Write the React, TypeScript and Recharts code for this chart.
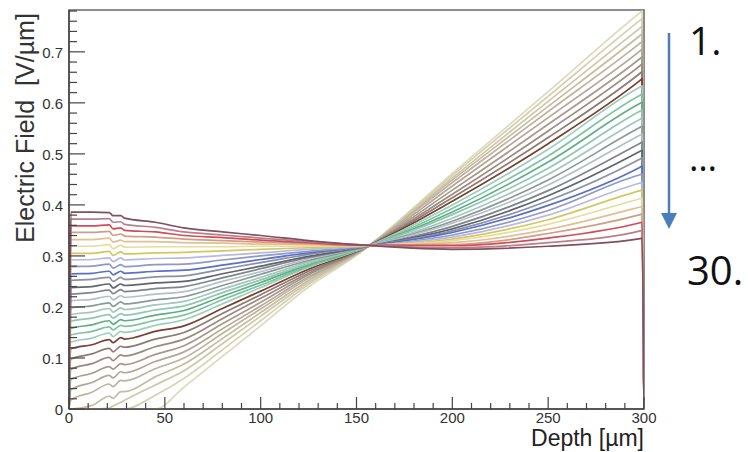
import React from 'react';
import { LineChart, Line, XAxis, YAxis, ReferenceArea } from 'recharts';

// Depth positions (µm) at which each field profile is sampled
const depth = [0, 1, 12, 21, 23, 27, 29, 45, 60, 80, 100, 125, 150, 200, 250, 298, 299, 300];

// Electric field profiles [V/µm]; curve01 is "1." (top at right), curve30 is "30."
const curve01 = [0, 0, 0, 0, 0, 0, 0, 0, 0.043, 0.103, 0.163, 0.239, 0.301, 0.462, 0.622, 0.777, 0.780, 0];
const curve02 = [0, 0, 0, 0, 0, 0, 0, 0.027, 0.060, 0.116, 0.173, 0.244, 0.302, 0.458, 0.613, 0.762, 0.765, 0];
const curve03 = [0, 0, 0, 0.002, 0.006, 0.013, 0.017, 0.047, 0.075, 0.128, 0.182, 0.248, 0.303, 0.453, 0.603, 0.747, 0.750, 0];
const curve04 = [0, 0, 0.007, 0.025, 0.021, 0.034, 0.034, 0.063, 0.088, 0.138, 0.189, 0.252, 0.304, 0.449, 0.593, 0.732, 0.735, 0];
const curve05 = [0, 0.018, 0.033, 0.049, 0.044, 0.056, 0.055, 0.079, 0.100, 0.148, 0.196, 0.256, 0.305, 0.444, 0.583, 0.717, 0.720, 0];
const curve06 = [0, 0.038, 0.052, 0.066, 0.061, 0.073, 0.071, 0.093, 0.112, 0.157, 0.202, 0.259, 0.305, 0.437, 0.571, 0.702, 0.705, 0];
const curve07 = [0, 0.058, 0.070, 0.083, 0.078, 0.089, 0.087, 0.107, 0.124, 0.167, 0.209, 0.263, 0.306, 0.429, 0.558, 0.687, 0.690, 0];
const curve08 = [0, 0.078, 0.089, 0.101, 0.095, 0.106, 0.104, 0.122, 0.137, 0.177, 0.217, 0.266, 0.307, 0.421, 0.545, 0.673, 0.676, 0];
const curve09 = [0, 0.098, 0.108, 0.119, 0.112, 0.123, 0.121, 0.137, 0.150, 0.187, 0.224, 0.270, 0.308, 0.414, 0.532, 0.658, 0.661, 0];
const curve10 = [0, 0.118, 0.126, 0.136, 0.130, 0.140, 0.137, 0.152, 0.163, 0.197, 0.231, 0.274, 0.309, 0.407, 0.520, 0.644, 0.647, 0];
const curve11 = [0, 0.131, 0.139, 0.149, 0.142, 0.152, 0.150, 0.164, 0.175, 0.206, 0.238, 0.278, 0.310, 0.400, 0.509, 0.631, 0.633, 0];
const curve12 = [0, 0.145, 0.152, 0.161, 0.155, 0.164, 0.162, 0.174, 0.184, 0.214, 0.243, 0.280, 0.310, 0.393, 0.496, 0.615, 0.617, 0];
const curve13 = [0, 0.158, 0.165, 0.173, 0.166, 0.175, 0.173, 0.184, 0.193, 0.221, 0.248, 0.283, 0.311, 0.386, 0.484, 0.599, 0.601, 0];
const curve14 = [0, 0.172, 0.178, 0.185, 0.178, 0.187, 0.184, 0.194, 0.202, 0.228, 0.253, 0.285, 0.312, 0.381, 0.472, 0.584, 0.586, 0];
const curve15 = [0, 0.185, 0.190, 0.197, 0.190, 0.198, 0.195, 0.204, 0.211, 0.235, 0.258, 0.288, 0.312, 0.374, 0.460, 0.568, 0.570, 0];
const curve16 = [0, 0.198, 0.202, 0.208, 0.201, 0.210, 0.206, 0.214, 0.220, 0.242, 0.264, 0.291, 0.313, 0.368, 0.449, 0.552, 0.554, 0];
const curve17 = [0, 0.212, 0.215, 0.221, 0.214, 0.222, 0.219, 0.225, 0.230, 0.250, 0.269, 0.294, 0.314, 0.364, 0.439, 0.537, 0.539, 0];
const curve18 = [0, 0.225, 0.228, 0.233, 0.226, 0.234, 0.230, 0.236, 0.240, 0.257, 0.275, 0.297, 0.314, 0.358, 0.428, 0.521, 0.523, 0];
const curve19 = [0, 0.238, 0.240, 0.245, 0.237, 0.245, 0.242, 0.247, 0.250, 0.265, 0.280, 0.299, 0.315, 0.353, 0.418, 0.505, 0.507, 0];
const curve20 = [0, 0.252, 0.254, 0.258, 0.250, 0.258, 0.254, 0.259, 0.261, 0.274, 0.287, 0.303, 0.316, 0.349, 0.408, 0.490, 0.492, 0];
const curve21 = [0, 0.265, 0.266, 0.270, 0.263, 0.270, 0.266, 0.270, 0.272, 0.282, 0.293, 0.306, 0.317, 0.346, 0.399, 0.474, 0.476, 0];
const curve22 = [0, 0.279, 0.280, 0.284, 0.276, 0.283, 0.279, 0.283, 0.284, 0.292, 0.300, 0.309, 0.317, 0.341, 0.389, 0.459, 0.460, 0];
const curve23 = [0, 0.292, 0.293, 0.296, 0.289, 0.296, 0.292, 0.295, 0.296, 0.301, 0.306, 0.313, 0.318, 0.337, 0.380, 0.443, 0.444, 0];
const curve24 = [0, 0.305, 0.305, 0.309, 0.301, 0.308, 0.304, 0.306, 0.307, 0.310, 0.313, 0.316, 0.319, 0.333, 0.371, 0.428, 0.429, 0];
const curve25 = [0, 0.319, 0.319, 0.322, 0.314, 0.321, 0.317, 0.318, 0.318, 0.318, 0.319, 0.319, 0.320, 0.330, 0.362, 0.412, 0.413, 0];
const curve26 = [0, 0.332, 0.332, 0.335, 0.327, 0.331, 0.328, 0.328, 0.326, 0.325, 0.323, 0.322, 0.320, 0.326, 0.352, 0.396, 0.397, 0];
const curve27 = [0, 0.346, 0.346, 0.348, 0.340, 0.343, 0.339, 0.337, 0.333, 0.330, 0.327, 0.324, 0.321, 0.322, 0.344, 0.381, 0.382, 0];
const curve28 = [0, 0.359, 0.359, 0.361, 0.353, 0.355, 0.350, 0.347, 0.340, 0.336, 0.331, 0.326, 0.321, 0.320, 0.335, 0.365, 0.366, 0];
const curve29 = [0, 0.372, 0.372, 0.373, 0.366, 0.367, 0.362, 0.356, 0.347, 0.341, 0.335, 0.328, 0.322, 0.316, 0.326, 0.349, 0.350, 0];
const curve30 = [0, 0.386, 0.386, 0.385, 0.379, 0.379, 0.374, 0.366, 0.355, 0.347, 0.340, 0.330, 0.322, 0.313, 0.319, 0.334, 0.335, 0];

const curveColors = [
  '#ddd9bb', '#d6d0b2', '#cfc7aa', '#c6bca2', '#bfb29e', '#b4a696', '#a8998c', '#9a8a80', '#8e7b72', '#7a3f33',
  '#9ccfba', '#7fc3a3', '#5fae86', '#8fc7b0', '#a5c4bb', '#8a9a94', '#b3c0c8', '#7e868c', '#5f666d', '#8a91a8',
  '#5c6fc6', '#9098c8', '#b5b9e3', '#d5c75e', '#e6dc9e', '#e3bf94', '#cf9e86', '#d24b57', '#b98088', '#80505f',
];

const xTicks = [0, 10, 20, 30, 40, 50, 60, 70, 80, 90, 100, 110, 120, 130, 140, 150, 160, 170, 180, 190, 200, 210, 220, 230, 240, 250, 260, 270, 280, 290, 300];
const yTicks = [0, 0.02, 0.04, 0.06, 0.08, 0.1, 0.12, 0.14, 0.16, 0.18, 0.2, 0.22, 0.24, 0.26, 0.28, 0.3, 0.32, 0.34, 0.36, 0.38, 0.4, 0.42, 0.44, 0.46, 0.48, 0.5, 0.52, 0.54, 0.56, 0.58, 0.6, 0.62, 0.64, 0.66, 0.68, 0.7, 0.72, 0.74, 0.76, 0.78];
const yMax = 0.782;

const xTitle = 'Depth [µm]';
const yTitle = 'Electric Field\u00A0\u00A0[V/µm]';
const firstLabel = '1.';
const middleLabel = '…';
const lastLabel = '30.';

const series = [
  curve01, curve02, curve03, curve04, curve05, curve06, curve07, curve08, curve09, curve10,
  curve11, curve12, curve13, curve14, curve15, curve16, curve17, curve18, curve19, curve20,
  curve21, curve22, curve23, curve24, curve25, curve26, curve27, curve28, curve29, curve30,
];

const data = depth.map((d, r) => {
  const row: Record<string, number> = { depth: d };
  series.forEach((s, i) => {
    row['c' + (i + 1)] = s[r];
  });
  return row;
});

const FONT = '"Liberation Sans", Arial, sans-serif';

const YTick = (props: any) => {
  const { x, y, payload } = props;
  const v = payload.value as number;
  const major = Math.abs(v * 10 - Math.round(v * 10)) < 1e-6;
  return (
    <g>
      <line x1={x} x2={x + (major ? 16 : 8)} y1={y} y2={y} stroke="#444" strokeWidth={1.2} />
      {major && (
        <text x={x - 6} y={y + 6} textAnchor="end" fontSize={15} fill="#333" fontFamily={FONT}>
          {v === 0 ? '0' : v.toFixed(1)}
        </text>
      )}
    </g>
  );
};

const XTick = (props: any) => {
  const { x, y, payload } = props;
  const v = payload.value as number;
  const major = v % 50 === 0;
  return (
    <g>
      <line x1={x} x2={x} y1={y} y2={y - (major ? 12 : 6)} stroke="#444" strokeWidth={1.2} />
      {major && (
        <text x={x} y={y + 14} textAnchor="middle" fontSize={15} fill="#333" fontFamily={FONT}>
          {String(v)}
        </text>
      )}
    </g>
  );
};

export default function App() {
  return (
    <div style={{ position: 'absolute', left: 0, top: 0, width: 748, height: 452, background: '#fff' }}>
      <LineChart
        width={748}
        height={452}
        data={data}
        margin={{ top: 10, right: 104, left: 29, bottom: 13 }}
      >
        <XAxis
          type="number"
          dataKey="depth"
          domain={[0, 300]}
          ticks={xTicks}
          interval={0}
          tick={<XTick />}
          tickLine={false}
          tickSize={0}
          tickMargin={0}
          height={30}
          axisLine={{ stroke: '#444', strokeWidth: 1.5 }}
          allowDataOverflow
        />
        <YAxis
          type="number"
          domain={[0, yMax]}
          ticks={yTicks}
          interval={0}
          tick={<YTick />}
          tickLine={false}
          tickSize={0}
          tickMargin={0}
          width={40}
          axisLine={{ stroke: '#444', strokeWidth: 1.5 }}
          allowDataOverflow
        />
        <ReferenceArea x1={0} x2={300} y1={0} y2={yMax} fill="none" fillOpacity={0} stroke="#666" strokeWidth={1.5} />
        {series.map((_, i) => (
          <Line
            key={i}
            type="monotone"
            dataKey={'c' + (i + 1)}
            stroke={curveColors[i]}
            strokeWidth={1.7}
            dot={false}
            activeDot={false}
            isAnimationActive={false}
          />
        ))}
      </LineChart>
      <svg
        width={748}
        height={452}
        style={{ position: 'absolute', left: 0, top: 0, pointerEvents: 'none' }}
      >
        <text
          transform="translate(34,128) rotate(-90)"
          textAnchor="middle"
          fontSize={25}
          fill="#333"
          fontFamily={FONT}
        >
          {yTitle}
        </text>
        <text x={644} y={446} textAnchor="end" fontSize={23} fill="#222" fontFamily={FONT}>
          {xTitle}
        </text>
        <line x1={669} y1={33} x2={669} y2={215} stroke="#4a7ebb" strokeWidth={2.5} />
        <polygon points="661,213 677,213 669,229" fill="#4a7ebb" />
        <text x={689} y={55} fontSize={39} fill="#111" fontFamily='"Open Sans", sans-serif'>
          {firstLabel}
        </text>
        <text x={689} y={171} fontSize={36} fill="#111" fontFamily='"Open Sans", sans-serif'>
          {middleLabel}
        </text>
        <text x={687} y={285} fontSize={40} fill="#111" fontFamily='"Open Sans", sans-serif'>
          {lastLabel}
        </text>
      </svg>
    </div>
  );
}
